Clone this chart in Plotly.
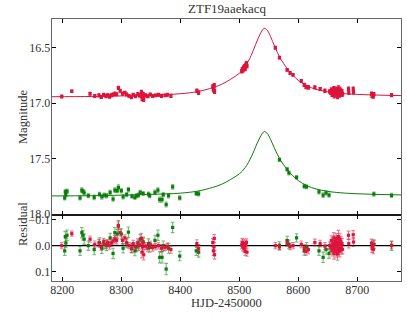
import plotly.graph_objects as go

TITLE = "ZTF19aaekacq"
X_TICKS = [8200, 8300, 8400, 8500, 8600, 8700]
Y_TICKS = [16.5, 17.0, 17.5, 18.0]
RES_TICKS = [-0.1, 0.0, 0.1]

# model curves
model_t = [8182, 8250, 8300, 8350, 8400, 8430, 8455, 8470, 8485, 8500, 8510, 8520, 8530,
           8537, 8542, 8547, 8553, 8560, 8570, 8580, 8590, 8600, 8615, 8630, 8650, 8680,
           8720, 8774]
model_r = [16.942, 16.940, 16.935, 16.927, 16.915, 16.895, 16.860, 16.830, 16.785, 16.730,
           16.670, 16.570, 16.440, 16.360, 16.325, 16.340, 16.400, 16.490, 16.600, 16.680,
           16.745, 16.795, 16.845, 16.875, 16.898, 16.915, 16.925, 16.932]
model_g = [17.837, 17.835, 17.830, 17.823, 17.812, 17.793, 17.760, 17.732, 17.689, 17.638,
           17.581, 17.487, 17.365, 17.290, 17.257, 17.271, 17.328, 17.412, 17.516, 17.591,
           17.652, 17.699, 17.746, 17.774, 17.796, 17.812, 17.821, 17.828]

# red band data
r_t = [8199, 8216, 8247, 8255, 8262, 8266, 8270, 8274, 8277, 8280, 8283, 8286, 8289, 8292,
       8295, 8298, 8302, 8306, 8309, 8313, 8317, 8320, 8324, 8328, 8331, 8334, 8335, 8336,
       8337, 8338, 8341, 8345, 8349, 8353, 8358, 8363, 8368, 8374, 8378, 8384, 8428, 8431,
       8455, 8456, 8457, 8458, 8457.5, 8504, 8505, 8506, 8507, 8508, 8509, 8510, 8511, 8512,
       8513, 8561, 8568, 8581, 8586, 8591, 8605, 8610, 8613, 8617, 8628, 8637, 8645, 8653,
       8655, 8656, 8657, 8658, 8659, 8660, 8660.5, 8661, 8662, 8662.5, 8663, 8664, 8664.5,
       8665, 8666, 8666.5, 8667, 8668, 8668.5, 8669, 8670, 8670.5, 8671, 8672, 8673, 8674,
       8675, 8685, 8685.5, 8693, 8693.5, 8724, 8725, 8726, 8727, 8728, 8758]
r_mag = [16.940, 16.893, 16.915, 16.935, 16.930, 16.945, 16.925, 16.935, 16.928, 16.940,
         16.930, 16.922, 16.915, 16.920, 16.862, 16.888, 16.915, 16.905, 16.922, 16.935,
         16.945, 16.925, 16.938, 16.920, 16.930, 16.905, 16.955, 16.935, 16.920, 16.965,
         16.930, 16.938, 16.922, 16.935, 16.930, 16.925, 16.935, 16.930, 16.925, 16.935,
         16.888, 16.905, 16.850, 16.880, 16.865, 16.895, 16.838, 16.712, 16.695, 16.705,
         16.680, 16.688, 16.668, 16.690, 16.655, 16.640, 16.665, 16.500, 16.590, 16.700,
         16.728, 16.745, 16.800, 16.835, 16.855, 16.857, 16.858, 16.872, 16.888, 16.895,
         16.905, 16.880, 16.920, 16.895, 16.910, 16.870, 16.930, 16.900, 16.885, 16.918,
         16.895, 16.925, 16.875, 16.905, 16.890, 16.935, 16.900, 16.868, 16.915, 16.898,
         16.925, 16.880, 16.905, 16.890, 16.915, 16.898, 16.920, 16.872, 16.905, 16.872,
         16.900, 16.915, 16.935, 16.925, 16.940, 16.920, 16.928]
r_err = [0.012, 0.010, 0.012, 0.013, 0.014, 0.012, 0.013, 0.015, 0.012, 0.014, 0.013, 0.012,
         0.014, 0.013, 0.014, 0.013, 0.014, 0.012, 0.013, 0.012, 0.014, 0.013, 0.012, 0.014,
         0.015, 0.020, 0.022, 0.020, 0.018, 0.020, 0.014, 0.013, 0.012, 0.013, 0.012, 0.013,
         0.014, 0.012, 0.013, 0.014, 0.015, 0.016, 0.015, 0.018, 0.016, 0.017, 0.015, 0.015,
         0.016, 0.015, 0.016, 0.014, 0.015, 0.016, 0.015, 0.014, 0.016, 0.012, 0.012, 0.012,
         0.013, 0.012, 0.013, 0.014, 0.015, 0.016, 0.013, 0.013, 0.014, 0.015, 0.016, 0.018,
         0.020, 0.018, 0.022, 0.020, 0.022, 0.020, 0.022, 0.020, 0.024, 0.022, 0.020, 0.024,
         0.022, 0.024, 0.022, 0.024, 0.022, 0.020, 0.022, 0.024, 0.022, 0.020, 0.022, 0.020,
         0.018, 0.016, 0.017, 0.016, 0.017, 0.015, 0.016, 0.015, 0.016, 0.015, 0.014]
r_res = [0.000, -0.046, -0.025, -0.005, -0.010, 0.005, -0.015, -0.005, -0.012, 0.000,
         -0.010, -0.018, -0.025, -0.020, -0.078, -0.050, -0.020, -0.030, -0.012, 0.000,
         0.012, -0.008, 0.005, -0.012, -0.002, -0.028, 0.025, 0.005, -0.010, 0.035,
         0.002, 0.010, -0.005, 0.008, 0.004, 0.000, 0.010, 0.007, 0.003, 0.015,
         -0.008, 0.012, -0.012, 0.020, 0.005, 0.035, -0.028, -0.003, -0.012, 0.005,
         -0.008, 0.010, 0.000, 0.022, -0.005, -0.012, 0.025, 0.000, 0.005, -0.010,
         0.003, 0.000, -0.005, 0.010, 0.022, 0.015, -0.012, -0.008, 0.002, 0.000,
         0.006, -0.020, 0.020, -0.005, 0.010, -0.030, 0.030, 0.000, -0.017, 0.016,
         -0.007, 0.022, -0.027, 0.002, -0.013, 0.032, -0.004, -0.035, 0.011, -0.006,
         0.021, -0.024, 0.001, -0.015, 0.010, -0.008, 0.014, -0.040, -0.008, -0.042,
         -0.014, -0.010, 0.010, 0.000, 0.015, -0.005, -0.002]

# green band data
g_t = [8204, 8205, 8206, 8208, 8230, 8233, 8235, 8237, 8244, 8254, 8263, 8267, 8271, 8275,
       8281, 8286, 8289, 8293, 8295, 8300, 8303, 8309, 8312, 8318, 8323, 8326, 8329, 8332,
       8337, 8346, 8348, 8357, 8362, 8365, 8369, 8371, 8376, 8380, 8387, 8399, 8427, 8431,
       8568, 8581, 8584, 8597, 8610, 8614, 8635, 8642, 8647, 8652, 8728, 8758]
g_mag = [17.855, 17.800, 17.825, 17.795, 17.855, 17.785, 17.795, 17.810, 17.835, 17.850,
         17.822, 17.845, 17.830, 17.835, 17.805, 17.865, 17.785, 17.790, 17.760, 17.790,
         17.845, 17.825, 17.780, 17.840, 17.850, 17.835, 17.830, 17.805, 17.815, 17.820,
         17.835, 17.805, 17.785, 17.870, 17.870, 17.825, 17.915, 17.835, 17.755, 17.855,
         17.815, 17.818, 17.510, 17.597, 17.630, 17.670, 17.750, 17.755, 17.800, 17.830,
         17.810, 17.830, 17.820, 17.832]
g_err = [0.018, 0.020, 0.018, 0.020, 0.018, 0.020, 0.018, 0.020, 0.018, 0.020, 0.018, 0.020,
         0.018, 0.019, 0.018, 0.020, 0.020, 0.018, 0.022, 0.020, 0.018, 0.018, 0.020, 0.018,
         0.019, 0.018, 0.018, 0.019, 0.018, 0.018, 0.018, 0.020, 0.020, 0.022, 0.022, 0.018,
         0.022, 0.019, 0.020, 0.018, 0.018, 0.019, 0.015, 0.016, 0.017, 0.016, 0.017, 0.017,
         0.018, 0.020, 0.018, 0.019, 0.018, 0.018]
g_res = [0.020, -0.035, -0.010, -0.040, 0.020, -0.050, -0.040, -0.025, 0.000, 0.015,
         -0.012, 0.010, -0.005, 0.000, -0.030, 0.030, -0.050, -0.045, -0.075, -0.045,
         0.010, -0.010, -0.052, 0.010, 0.020, 0.005, 0.000, -0.025, -0.015, -0.008,
         0.007, -0.020, -0.040, 0.045, 0.045, 0.000, 0.090, 0.010, -0.070, 0.040,
         0.020, 0.025, 0.000, -0.020, -0.005, -0.030, 0.020, 0.005, 0.020, 0.045,
         0.015, 0.030, -0.005, 0.000]

RED = "#DC143C"
RED_LIGHT = "rgba(220,20,60,0.55)"
GREEN = "#0A7D0A"
GREEN_LIGHT = "rgba(10,125,10,0.55)"
FONT = "Liberation Serif, Times New Roman, DejaVu Serif, serif"
TXT = "#333333"

fig = go.Figure()

# main panel
fig.add_trace(go.Scatter(x=model_t, y=model_r, mode="lines", line=dict(color=RED, width=1, shape="spline"),
                         xaxis="x", yaxis="y", hoverinfo="skip"))
fig.add_trace(go.Scatter(x=model_t, y=model_g, mode="lines", line=dict(color=GREEN, width=1, shape="spline"),
                         xaxis="x", yaxis="y", hoverinfo="skip"))
fig.add_trace(go.Scatter(x=r_t, y=r_mag, mode="markers", xaxis="x", yaxis="y",
                         marker=dict(color=RED, size=3.2, symbol="square"),
                         error_y=dict(type="data", array=r_err, color=RED, thickness=1.2, width=1.5)))
fig.add_trace(go.Scatter(x=g_t, y=g_mag, mode="markers", xaxis="x", yaxis="y",
                         marker=dict(color=GREEN, size=3.2, symbol="square"),
                         error_y=dict(type="data", array=g_err, color=GREEN_LIGHT, thickness=1.2, width=1.5)))

# residual panel
fig.add_trace(go.Scatter(x=g_t, y=g_res, mode="markers", xaxis="x2", yaxis="y2",
                         marker=dict(color=GREEN, size=3.2, symbol="square"),
                         error_y=dict(type="data", array=g_err, color=GREEN_LIGHT, thickness=1.1, width=1.8)))
fig.add_trace(go.Scatter(x=r_t, y=r_res, mode="markers", xaxis="x2", yaxis="y2",
                         marker=dict(color=RED, size=3.2, symbol="square"),
                         error_y=dict(type="data", array=r_err, color=RED_LIGHT, thickness=1.1, width=1.8)))

split = 66 / 262
axis_common = dict(ticks="inside", ticklen=4, tickwidth=1, tickcolor="black", mirror="ticks",
                   showline=True, linecolor="#666666", linewidth=1.3, showgrid=False, zeroline=False,
                   tickfont=dict(family=FONT, size=12, color=TXT))

fig.update_layout(
    width=407, height=318,
    margin=dict(l=52, r=6, t=19, b=37, autoexpand=False),
    paper_bgcolor="white", plot_bgcolor="white",
    showlegend=False,
    hovermode=False,
    font=dict(family=FONT, size=12, color=TXT),
    xaxis=dict(range=[8182.5, 8774], tickvals=X_TICKS, showticklabels=False, anchor="y", **axis_common),
    yaxis=dict(range=[18.009, 16.241], domain=[split, 1], tickvals=Y_TICKS, tickformat=".1f",
               anchor="x", ticklabelstandoff=-2, **axis_common),
    xaxis2=dict(range=[8182.5, 8774], tickvals=X_TICKS, anchor="y2", matches="x",
                ticklabelstandoff=-3, **axis_common),
    yaxis2=dict(range=[0.136, -0.118], domain=[0, split], tickvals=RES_TICKS, tickformat=".1f",
                anchor="x2", ticklabelstandoff=-2, **axis_common),
    shapes=[
        dict(type="line", xref="paper", x0=0, x1=1, yref="y2", y0=0, y1=0,
             line=dict(color="black", width=1.2), layer="below"),
        dict(type="line", xref="paper", x0=0, x1=1, yref="paper", y0=split, y1=split,
             line=dict(color="black", width=1.3), layer="above"),
    ],
    annotations=[
        dict(text=TITLE, xref="paper", yref="paper", x=0.5, y=1, yanchor="bottom", yshift=1,
             showarrow=False, font=dict(family=FONT, size=13, color=TXT)),
        dict(text="Magnitude", xref="paper", yref="paper", x=0, y=(1 + split) / 2, textangle=-90,
             xshift=-38, showarrow=False, font=dict(family=FONT, size=12.5, color=TXT)),
        dict(text="Residual", xref="paper", yref="paper", x=0, y=split / 2, textangle=-90,
             xshift=-38, showarrow=False, font=dict(family=FONT, size=12.5, color=TXT)),
        dict(text="HJD-2450000", xref="paper", yref="paper", x=0.5, y=0, yanchor="middle",
             yshift=-22, showarrow=False, font=dict(family=FONT, size=12.5, color=TXT)),
    ],
)

# the page body gets a default 8px margin; remove it so the 407x318 figure fills the window
fig.write_html("out.html", config={"displayModeBar": False, "staticPlot": True},
               post_script="document.body.style.margin='0px';")
